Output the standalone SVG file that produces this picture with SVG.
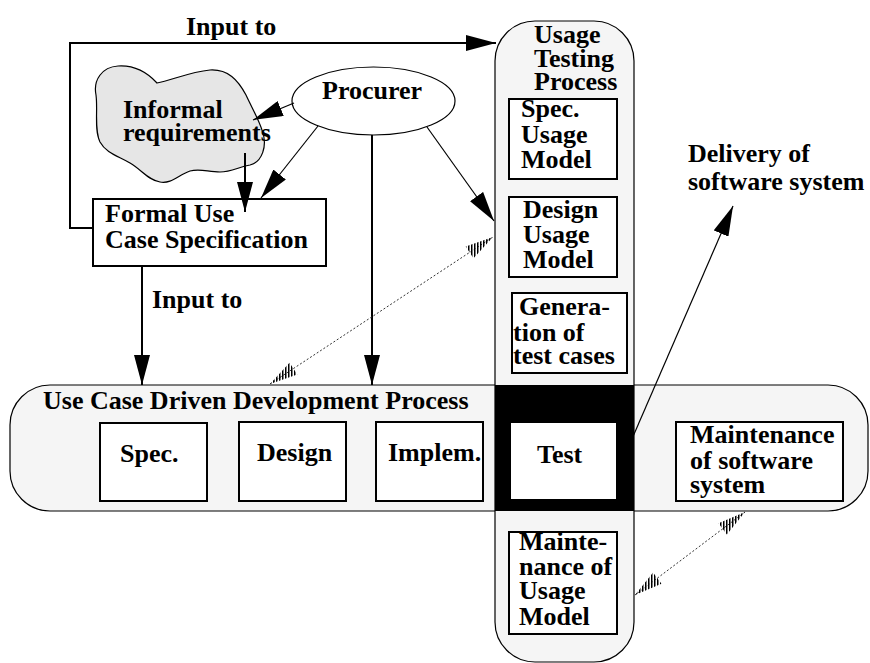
<svg xmlns="http://www.w3.org/2000/svg" width="870" height="663" viewBox="0 0 870 663">
  <style>
    text { font-family: "Liberation Serif", "Times New Roman", serif; font-weight: bold; font-size: 26px; fill: #000; }
    .band { fill: #f5f5f5; stroke: #000; stroke-width: 1.2; }
    .box { fill: #fff; stroke: #000; stroke-width: 2; }
    .flow { fill: none; stroke: #000; stroke-width: 1.2; }
    .flow-thick { fill: none; stroke: #000; stroke-width: 2; }
    .dotted { fill: none; stroke: #333; stroke-width: 1; stroke-dasharray: 2 2; }
    .hatch-head { fill: url(#hatch); stroke: none; }
  </style>
  <defs>
    <marker id="arrow" viewBox="0 0 30 16" refX="30" refY="8" markerWidth="30" markerHeight="16" markerUnits="userSpaceOnUse" orient="auto">
      <path d="M0,0 L30,8 L0,16 Z" fill="#000"/>
    </marker>
    <pattern id="hatch" patternUnits="userSpaceOnUse" width="3" height="10">
      <rect x="0" y="0" width="1.5" height="10" fill="#000"/>
    </pattern>
  </defs>

  <!-- Use case driven development process (horizontal band) -->
  <g id="use-case-process">
    <rect class="band" x="10" y="385" width="858" height="126" rx="40" ry="40"/>
    <text x="43" y="409">Use Case Driven Development Process</text>
  </g>

  <!-- Usage testing process (vertical band) -->
  <g id="usage-testing-process">
    <rect class="band" x="495" y="21" width="139" height="641" rx="40" ry="40"/>
    <text x="534" y="43">Usage</text>
    <text x="534" y="67">Testing</text>
    <text x="534" y="90">Process</text>
  </g>

  <!-- Shared test phase where the two processes cross -->
  <g id="test">
    <rect x="495" y="385" width="139" height="126" fill="#000"/>
    <rect x="511" y="423" width="105" height="76" fill="#fff"/>
    <text x="537" y="463">Test</text>
  </g>

  <g id="spec">
    <rect class="box" x="100" y="423" width="107" height="78"/>
    <text x="120" y="462">Spec.</text>
  </g>
  <g id="design">
    <rect class="box" x="239" y="422" width="107" height="79"/>
    <text x="257" y="461">Design</text>
  </g>
  <g id="implem">
    <rect class="box" x="376" y="422" width="107" height="79"/>
    <text x="388" y="461">Implem.</text>
  </g>
  <g id="maintenance-software">
    <rect class="box" x="676" y="422" width="167" height="79"/>
    <text x="690" y="443">Maintenance</text>
    <text x="690" y="469">of software</text>
    <text x="690" y="493">system</text>
  </g>

  <g id="spec-usage-model">
    <rect class="box" x="509" y="99" width="108" height="80"/>
    <text x="521" y="117">Spec.</text>
    <text x="521" y="143">Usage</text>
    <text x="521" y="168">Model</text>
  </g>
  <g id="design-usage-model">
    <rect class="box" x="509" y="197" width="108" height="80"/>
    <text x="523" y="218">Design</text>
    <text x="523" y="243">Usage</text>
    <text x="523" y="268">Model</text>
  </g>
  <g id="generation-test-cases">
    <rect class="box" x="512" y="293" width="115" height="80"/>
    <text x="519" y="315">Genera-</text>
    <text x="513" y="341">tion of</text>
    <text x="513" y="364">test cases</text>
  </g>
  <g id="maintenance-usage-model">
    <rect class="box" x="509" y="532" width="108" height="102"/>
    <text x="519" y="550">Mainte-</text>
    <text x="519" y="575">nance of</text>
    <text x="519" y="599">Usage</text>
    <text x="519" y="625">Model</text>
  </g>

  <g id="procurer">
    <ellipse cx="373.5" cy="101" rx="81.5" ry="34" fill="#fff" stroke="#000" stroke-width="1.2"/>
    <text x="322" y="99">Procurer</text>
  </g>

  <g id="informal-requirements">
    <path d="M96,95 C93,80 102,67 118,66 C133,65 145,70 157,83 C172,80 190,72 210,70 C228,69 238,80 246,95 C252,108 258,118 262,130 C268,146 262,162 250,165 C238,167 232,172 220,172 C208,172 200,168 190,171 C178,175 172,184 160,182 C148,180 142,170 130,163 C118,156 106,153 100,142 C94,130 98,110 96,95 Z" fill="#e6e6e6" stroke="#000" stroke-width="1.2"/>
    <text x="123" y="118">Informal</text>
    <text x="123" y="141">requirements</text>
  </g>

  <g id="formal-use-case">
    <rect class="box" x="93" y="199" width="233" height="67"/>
    <text x="105" y="222">Formal Use</text>
    <text x="105" y="248">Case Specification</text>
  </g>

  <g id="delivery-label">
    <text x="688" y="162">Delivery of</text>
    <text x="688" y="190">software system</text>
  </g>

  <g id="connectors">
    <!-- formal specification feeds the usage testing process -->
    <polyline class="flow-thick" points="93,228 70,228 70,43 496,43" marker-end="url(#arrow)"/>
    <text x="186" y="35">Input to</text>
    <!-- formal specification feeds the development process -->
    <line class="flow-thick" x1="142" y1="266" x2="142" y2="385" marker-end="url(#arrow)"/>
    <text x="152" y="308">Input to</text>
    <!-- procurer relations -->
    <line class="flow" x1="294" y1="103" x2="253" y2="120" marker-end="url(#arrow)"/>
    <line class="flow" x1="318" y1="126" x2="261" y2="198" marker-end="url(#arrow)"/>
    <line class="flow-thick" x1="372" y1="135" x2="372" y2="385" marker-end="url(#arrow)"/>
    <line class="flow" x1="427" y1="127" x2="494" y2="221" marker-end="url(#arrow)"/>
    <line class="flow-thick" x1="245" y1="153" x2="245" y2="212" marker-end="url(#arrow)"/>
    <!-- delivery -->
    <line class="flow" x1="625" y1="455" x2="733" y2="206" marker-end="url(#arrow)"/>
    <!-- dotted two-way links -->
    <line class="dotted" x1="270" y1="384" x2="493" y2="237"/>
    <polygon class="hatch-head" points="270,384 297.3,374.4 289.5,362.7"/>
    <polygon class="hatch-head" points="493,237 473.5,258.3 465.7,246.6"/>
    <line class="dotted" x1="635" y1="595" x2="745" y2="512"/>
    <polygon class="hatch-head" points="635,595 661.5,583.7 653.1,572.5"/>
    <polygon class="hatch-head" points="745,512 726.9,534.5 718.5,523.3"/>
  </g>
</svg>
